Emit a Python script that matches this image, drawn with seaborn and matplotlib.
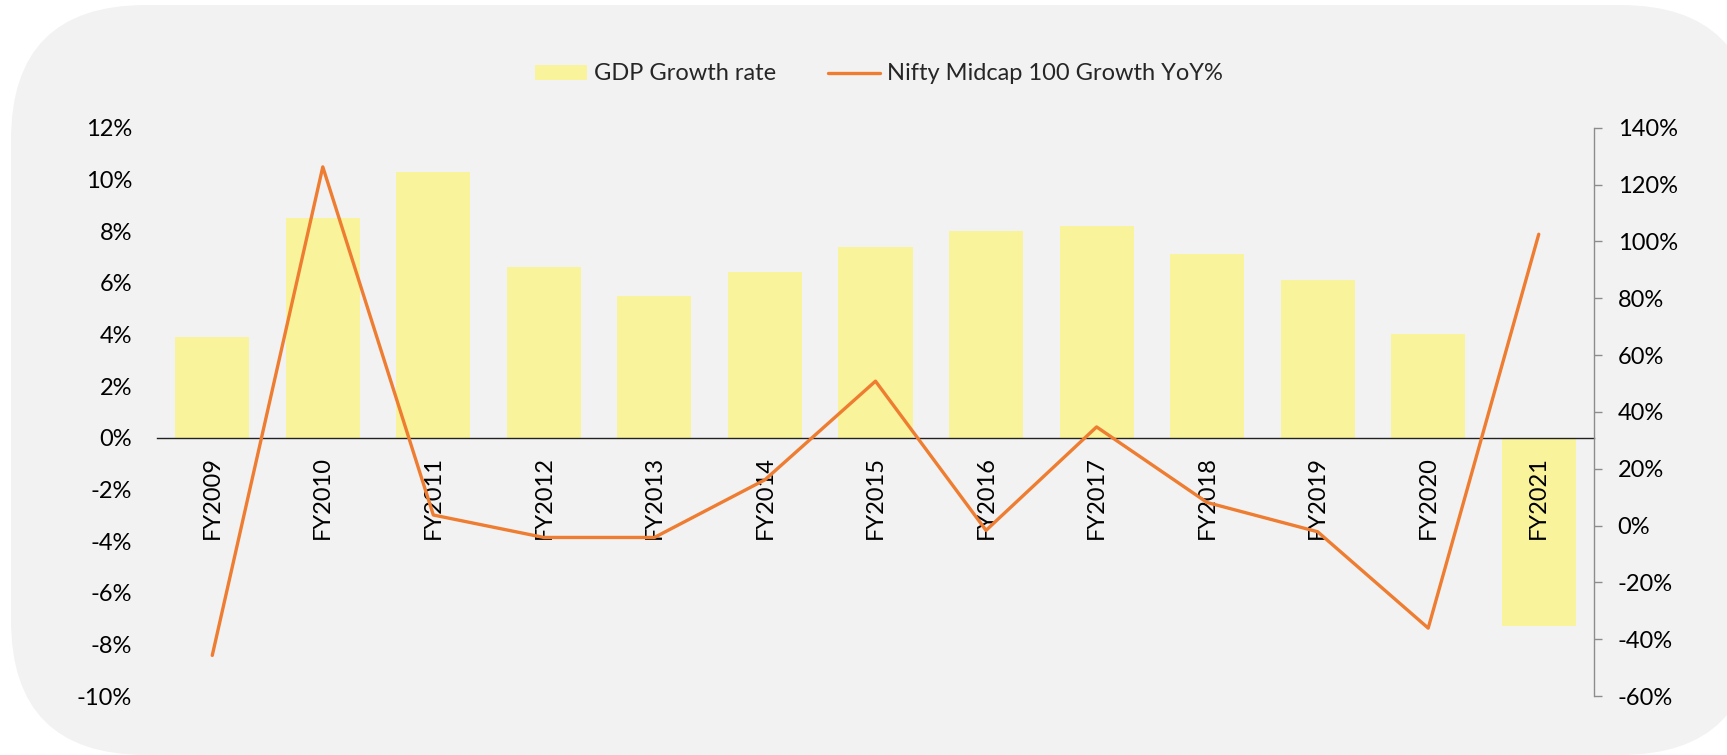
import numpy as np
import pandas as pd
import seaborn as sns
import matplotlib.pyplot as plt
from matplotlib.patches import FancyBboxPatch
from matplotlib.ticker import FuncFormatter
from matplotlib.lines import Line2D
from matplotlib.patches import Patch

# data (values in %)
years = ['FY2009', 'FY2010', 'FY2011', 'FY2012', 'FY2013', 'FY2014', 'FY2015',
         'FY2016', 'FY2017', 'FY2018', 'FY2019', 'FY2020', 'FY2021']
gdp_growth = [3.9, 8.5, 10.3, 6.6, 5.5, 6.4, 7.4, 8.0, 8.2, 7.1, 6.1, 4.0, -7.3]
nifty_growth = [-45.7, 126.2, 3.7, -4.2, -4.2, 16.1, 50.8, -1.7, 34.7, 8.1, -2.2, -36.1, 102.5]
left_ticks = list(range(-10, 13, 2))
right_ticks = list(range(-60, 141, 20))

df = pd.DataFrame({'year': years, 'gdp': gdp_growth, 'nifty': nifty_growth})

bar_color = '#F9F49B'
line_color = '#EE7D31'
bg_color = '#F2F2F2'

sns.set_theme(style='white')
plt.rcParams['font.family'] = ['Lato', 'DejaVu Sans']
plt.rcParams['axes.unicode_minus'] = False
fs = 17

fig = plt.figure(figsize=(17.27, 7.55), dpi=100)
fig.patch.set_facecolor('white')

# rounded grey panel behind everything (pixel coords)
panel = FancyBboxPatch((11, 0), 1744, 750, boxstyle='round,pad=0,rounding_size=135',
                       transform=None, facecolor=bg_color, edgecolor='none', zorder=0)
fig.add_artist(panel)

ax = fig.add_axes([0.0909, 0.0781, 0.8321, 0.7528])
ax.set_facecolor('none')
ax.set_axisbelow(False)

sns.barplot(data=df, x='year', y='gdp', ax=ax, color=bar_color, saturation=1,
            width=0.67, linewidth=0, edgecolor='none', zorder=1)
ax.set_xlim(-0.5, len(years) - 0.5)
ax.set_ylim(-10, 12)
ax.set_yticks(left_ticks)
ax.yaxis.set_major_formatter(FuncFormatter(lambda v, p: f'{v:.0f}%'))
ax.set_xlabel('')
ax.set_ylabel('')
for s in ['top', 'right', 'left']:
    ax.spines[s].set_visible(False)
ax.spines['bottom'].set_position(('data', 0))
ax.spines['bottom'].set_color('#222222')
ax.spines['bottom'].set_linewidth(1.0)
ax.tick_params(axis='y', length=0, pad=18, labelsize=fs, labelcolor='black')
ax.tick_params(axis='x', length=0, pad=13, labelsize=fs, labelcolor='black', labelrotation=90)

ax2 = ax.twinx()
sns.lineplot(data=df, x='year', y='nifty', ax=ax2, color=line_color, linewidth=2.4,
             sort=False)
ax2.set_ylim(-60, 140)
ax2.set_yticks(right_ticks)
ax2.yaxis.set_major_formatter(FuncFormatter(lambda v, p: f'{v:.0f}%'))
ax2.set_ylabel('')
ax2.set_xlabel('')
for s in ['top', 'left', 'bottom']:
    ax2.spines[s].set_visible(False)
ax2.spines['right'].set_color('#8C8C8C')
ax2.spines['right'].set_linewidth(1.0)
ax2.tick_params(axis='y', length=6, width=1.0, color='#8C8C8C', pad=11,
                labelsize=fs, labelcolor='black', right=True)
ax.set_xlim(-0.5, len(years) - 0.5)

handles = [Patch(facecolor=bar_color, edgecolor='none'),
           Line2D([0], [0], color=line_color, linewidth=2.4)]
labels = ['GDP Growth rate', 'Nifty Midcap 100 Growth YoY%']
fig.legend(handles, labels, loc='center', bbox_to_anchor=(0.509, 0.902), ncol=2,
           frameon=False, fontsize=fs, handlelength=2.2, handleheight=0.6,
           handletextpad=0.3, columnspacing=2.2)

fig.savefig('out.png', dpi=100)
